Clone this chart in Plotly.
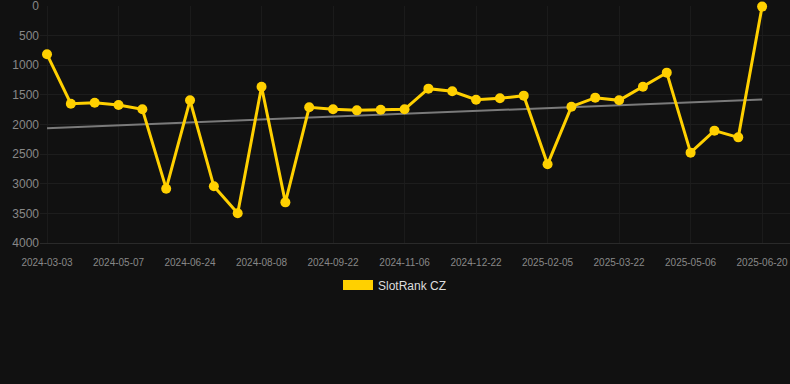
import numpy as np
import plotly.graph_objects as go

dates = [
    "2024-03-03", "2024-03-25", "2024-04-16", "2024-05-07", "2024-05-23", "2024-06-08",
    "2024-06-24", "2024-07-09", "2024-07-24", "2024-08-08", "2024-08-23", "2024-09-07",
    "2024-09-22", "2024-10-07", "2024-10-22", "2024-11-06", "2024-11-21", "2024-12-07",
    "2024-12-22", "2025-01-06", "2025-01-21", "2025-02-05", "2025-02-20", "2025-03-07",
    "2025-03-22", "2025-04-06", "2025-04-21", "2025-05-06", "2025-05-21", "2025-06-05",
    "2025-06-20",
]
ranks = [
    815, 1649, 1632, 1671, 1744, 3083, 1592, 3043, 3499, 1362, 3314, 1710,
    1744, 1761, 1750, 1744, 1395, 1440, 1581, 1558, 1513, 2672, 1699, 1547,
    1592, 1362, 1125, 2475, 2104, 2217, 10,
]
tick_labels = dates[::3]
y_ticks = [0, 500, 1000, 1500, 2000, 2500, 3000, 3500, 4000]
series_name = "SlotRank CZ"

idx = np.arange(len(ranks))
slope, intercept = np.polyfit(idx, ranks, 1)
trend = [slope * 0 + intercept, slope * idx[-1] + intercept]

YELLOW = "#FFD000"
BG = "#111111"

fig = go.Figure()
fig.add_trace(go.Scatter(
    x=[dates[0], dates[-1]], y=trend, mode="lines",
    line=dict(color="#7a7a7a", width=2), showlegend=False, hoverinfo="skip",
))
fig.add_trace(go.Scatter(
    x=dates, y=ranks, mode="lines+markers",
    line=dict(color=YELLOW, width=3),
    marker=dict(color=YELLOW, size=10),
    showlegend=False, cliponaxis=False,
))
fig.add_trace(go.Scatter(
    x=[None], y=[None], mode="lines", name=series_name,
    line=dict(color=YELLOW, width=12),
))

fig.update_layout(
    width=790, height=384,
    paper_bgcolor=BG, plot_bgcolor=BG,
    margin=dict(l=40, r=0, t=6, b=141),
    font=dict(family="Liberation Sans, Arial, sans-serif", color="#888888", size=12),
    showlegend=True,
    legend=dict(
        orientation="h", xref="container", yref="container",
        x=0.5, xanchor="center", y=0.258, yanchor="middle",
        font=dict(color="#dddddd", size=12), bgcolor="rgba(0,0,0,0)",
    ),
    xaxis=dict(
        type="category", categoryorder="array", categoryarray=dates,
        range=[-0.294, 31.17],
        tickmode="array", tickvals=tick_labels, ticktext=tick_labels,
        tickfont=dict(size=10, color="#888888"),
        ticklabelstandoff=10, ticklabeloverflow="allow",
        showgrid=True, gridcolor="#1b1b1b", gridwidth=1,
        zeroline=False, showline=True, linecolor="#2a2a2a", linewidth=1, ticks="",
    ),
    yaxis=dict(
        range=[4000, 0], tickmode="array", tickvals=y_ticks,
        tickfont=dict(size=12, color="#888888"),
        ticklabeloverflow="allow",
        showgrid=True, gridcolor="#1d1d1d", gridwidth=1,
        zeroline=False, showline=False, ticks="",
    ),
)

fig.write_html(
    "out.html",
    config={"displayModeBar": False},
    post_script="document.body.style.margin='0';document.body.style.background='#111111';",
)
